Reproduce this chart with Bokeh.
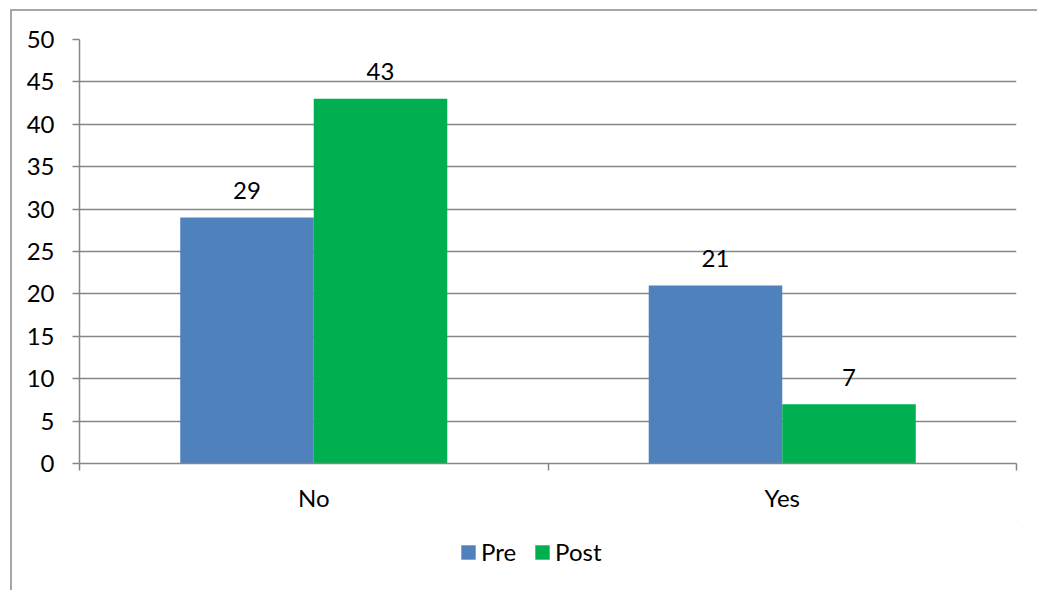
import numpy as np
from bokeh.plotting import figure
from bokeh.layouts import column
from bokeh.models import (Range1d, FixedTicker, ColumnDataSource, Legend, LegendItem)
from bokeh.transform import dodge
from bokeh.core.properties import value
from bokeh.embed import file_html
from bokeh.resources import INLINE

# Survey answers before and after
categories = ["No", "Yes"]
series_names = ["Pre", "Post"]
pre_counts = [29, 21]
post_counts = [43, 7]
y_ticks = [0, 5, 10, 15, 20, 25, 30, 35, 40, 45, 50]

FONT = "Lato"
FONT_SIZE = "24px"
GRID = "#868686"
PRE_COLOR = "#4F81BD"
POST_COLOR = "#00B050"

centers = np.arange(len(categories)) + 0.5
src = ColumnDataSource(dict(
    x=centers,
    pre=pre_counts,
    post=post_counts,
    pre_txt=[str(v) for v in pre_counts],
    post_txt=[str(v) for v in post_counts],
))

p = figure(
    width=1025, height=509,
    x_range=Range1d(0, len(categories)),
    y_range=Range1d(y_ticks[0], y_ticks[-1]),
    output_backend="svg", toolbar_location=None,
    min_border_left=67, min_border_right=21,
    min_border_top=28, min_border_bottom=57,
)
p.outline_line_color = None
p.background_fill_color = "white"
p.border_fill_color = "white"

bar_w = 0.285
p.vbar(x=dodge("x", -bar_w / 2, range=p.x_range), top="pre", width=bar_w,
       bottom=0, source=src, fill_color=PRE_COLOR, line_color=None)
p.vbar(x=dodge("x", bar_w / 2, range=p.x_range), top="post", width=bar_w,
       bottom=0, source=src, fill_color=POST_COLOR, line_color=None)

# value labels above each bar
for col, txt, off in (("pre", "pre_txt", -bar_w / 2), ("post", "post_txt", bar_w / 2)):
    p.text(x=dodge("x", off, range=p.x_range), y=col, text=txt, source=src,
           text_align="center", text_baseline="alphabetic", y_offset=-27,
           text_font=value(FONT), text_font_size=FONT_SIZE, text_color="black")

# y axis and grid
p.yaxis.ticker = FixedTicker(ticks=y_ticks)
p.yaxis.axis_line_color = GRID
p.yaxis.axis_line_width = 1.5
p.yaxis.major_tick_line_color = GRID
p.yaxis.major_tick_line_width = 1.5
p.yaxis.major_tick_out = 7
p.yaxis.major_tick_in = 0
p.yaxis.minor_tick_line_color = None
p.yaxis.major_label_standoff = 18
p.yaxis.major_label_text_font = FONT
p.yaxis.major_label_text_font_size = FONT_SIZE
p.yaxis.major_label_text_color = "black"
p.ygrid.ticker = FixedTicker(ticks=y_ticks)
p.ygrid.grid_line_color = GRID
p.ygrid.grid_line_width = 1.5
p.xgrid.grid_line_color = None

# x axis: labels at category centres, ticks at category boundaries
p.xaxis.ticker = FixedTicker(ticks=list(centers),
                             minor_ticks=list(range(len(categories) + 1)))
p.xaxis.major_label_overrides = {float(c): name for c, name in zip(centers, categories)}
p.xaxis.axis_line_color = GRID
p.xaxis.axis_line_width = 1.5
p.xaxis.major_tick_line_color = None
p.xaxis.major_tick_out = 0
p.xaxis.major_tick_in = 0
p.xaxis.minor_tick_line_color = GRID
p.xaxis.minor_tick_line_width = 1.5
p.xaxis.minor_tick_out = 7
p.xaxis.minor_tick_in = 0
p.xaxis.major_label_standoff = 12
p.xaxis.major_label_text_font = FONT
p.xaxis.major_label_text_font_size = FONT_SIZE
p.xaxis.major_label_text_color = "black"

# legend strip under the chart; its key renderers sit outside the visible range
q = figure(width=1025, height=70, x_range=Range1d(0, 1), y_range=Range1d(0, 1),
           output_backend="svg", toolbar_location=None,
           min_border=0, outline_line_color=None)
q.axis.visible = False
q.grid.visible = False
key_src = ColumnDataSource(dict(x=[5.0], top=[5.0]))
k_pre = q.vbar(x="x", top="top", bottom=4.0, width=0.1, source=key_src,
               fill_color=PRE_COLOR, line_color=None)
k_post = q.vbar(x="x", top="top", bottom=4.0, width=0.1, source=key_src,
                fill_color=POST_COLOR, line_color=None)
legend = Legend(
    items=[LegendItem(label=series_names[0], renderers=[k_pre]),
           LegendItem(label=series_names[1], renderers=[k_post])],
    orientation="horizontal", location=(380, 24),
    glyph_width=18, glyph_height=18, label_standoff=4, spacing=17,
    padding=0, margin=0, border_line_color=None, background_fill_alpha=0,
    label_text_font=FONT, label_text_font_size=FONT_SIZE, label_text_color="black",
)
q.add_layout(legend, "center")

layout = column(p, q, spacing=0, styles={
    "margin-left": "10px", "margin-top": "9px",
    "border-left": "2px solid #a6a6a6", "border-top": "2px solid #a6a6a6",
})

open("out.html", "w").write(file_html(layout, INLINE))
